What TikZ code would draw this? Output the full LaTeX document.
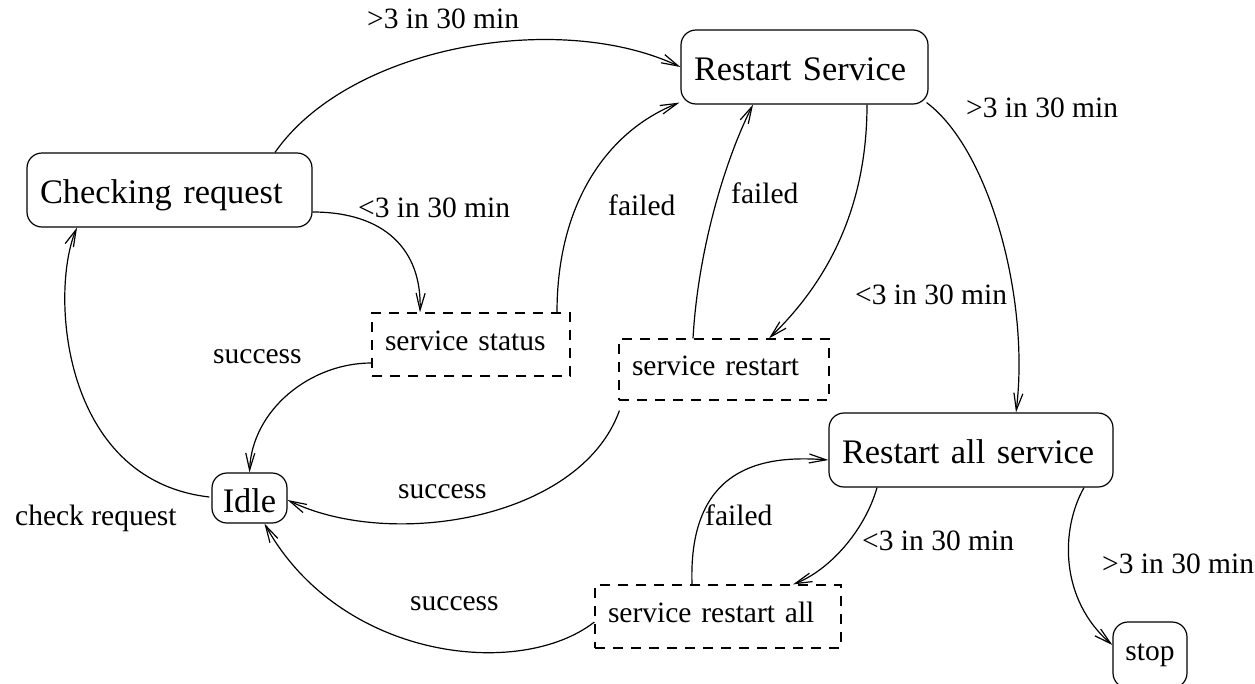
\documentclass[tikz,border=0pt]{standalone}
\usepackage{fontspec}
\setmainfont{Liberation Serif}
\usetikzlibrary{arrows.meta}
\begin{document}
\begin{tikzpicture}[x=1pt,y=-1pt,
  bigf/.style={font=\fontsize{34.4pt}{40pt}\selectfont, text height=26pt, text depth=0pt},
  smallf/.style={font=\fontsize{29.5pt}{35pt}\selectfont, text height=12pt, text depth=0pt},
  statebox/.style={draw, line width=1.2pt, rounded corners=15pt, inner xsep=13pt, inner ysep=0pt, align=left},
  actbox/.style={draw, line width=1.2pt, dash pattern=on 10pt off 8pt, inner xsep=13pt, inner ysep=0pt, align=left},
  lbl/.style={font=\fontsize{29.5pt}{35pt}\selectfont, inner sep=0pt, anchor=base west},
  arr/.style={line width=1.2pt, -{Straight Barb[length=17pt,width=9pt,line width=1.2pt]}},
]
\useasboundingbox (0,0) rectangle (1255,683);
% states
\node[statebox,bigf,text width=259pt,minimum height=74pt] (cr) at (169.5,190) {Checking request};
\node[statebox,bigf,text width=221pt,minimum height=74pt] (rs) at (804.5,67) {Restart Service};
\node[statebox,bigf,text width=258pt,minimum height=74pt] (ras) at (971,450) {Restart all service};
\node[statebox,bigf,text height=29pt,minimum width=75pt,minimum height=50pt,inner xsep=0pt] (idle) at (249.5,498) {Idle};
\node[statebox,smallf,text height=10pt,minimum width=74pt,minimum height=66pt,inner xsep=0pt] (stop) at (1150,655) {stop};
% actions
\node[actbox,smallf,text width=172pt,minimum height=63pt] (ss) at (471,344.5) {service status};
\node[actbox,smallf,text width=184pt,minimum height=61pt] (sr) at (724,369.5) {service restart};
\node[actbox,smallf,text width=220pt,minimum height=63pt] (sra) at (718,616.5) {service restart all};
% connectors
\draw[arr] ([xshift=105.5pt]cr.north) .. controls (350,45) and (560,10) .. (rs.west);
\draw[arr] ([yshift=-22pt]cr.east) .. controls (385,212) and (422,250) .. ([xshift=-51pt]ss.north);
\draw[arr] ([xshift=86pt]ss.north) .. controls (557,200) and (610,130) .. ([xshift=-1pt,yshift=2pt]rs.south west);
\draw[arr] ([xshift=-31pt]sr.north) .. controls (698,250) and (725,160) .. ([xshift=-51.5pt]rs.south);
\draw[arr] ([xshift=62.5pt]rs.south) .. controls (867,190) and (840,270) .. ([xshift=45pt]sr.north);
\draw[arr] ([xshift=-2pt,yshift=2pt]rs.south east) .. controls (990,150) and (1030,300) .. ([xshift=45pt]ras.north);
\draw[arr] ([yshift=-18.5pt]ss.west) .. controls (310,363) and (252,410) .. (idle.north);
\draw[arr] ([xshift=1pt,yshift=-10pt]sr.south west) .. controls (580,520) and (390,550) .. ([yshift=-2pt]idle.east);
\draw[arr] ([xshift=-2pt,yshift=1pt]idle.west) .. controls (60,480) and (50,290) .. ([xshift=-92.5pt]cr.south);
\draw[arr] ([yshift=-5.5pt]sra.west) .. controls (520,680) and (340,660) .. ([xshift=15pt]idle.south);
\draw[arr] ([xshift=-26pt]sra.north) .. controls (688,465) and (765,455) .. ([yshift=-10pt]ras.west);
\draw[arr] ([xshift=-94pt]ras.south) .. controls (865,530) and (830,570) .. ([xshift=75pt]sra.north);
\draw[arr] ([xshift=113pt]ras.south) .. controls (1060,530) and (1060,600) .. ([yshift=10pt]stop.west);
% labels
\node[lbl] (l1) at (367,28) {>3 in 30 min};
\node[lbl] (l2) at (358,217) {<3 in 30 min};
\node[lbl] (l3) at (608,215) {failed};
\node[lbl] (l4) at (731,203) {failed};
\node[lbl] (l5) at (855,304) {<3 in 30 min};
\node[lbl] (l6) at (966,117) {>3 in 30 min};
\node[lbl] (l7) at (213,363) {success};
\node[lbl] (l8) at (398,498) {success};
\node[lbl] (l9) at (15,525) {check request};
\node[lbl] (l10) at (705,525) {failed};
\node[lbl] (l11) at (862,550) {<3 in 30 min};
\node[lbl] (l12) at (1102,573) {>3 in 30 min};
\node[lbl] (l13) at (410,610) {success};
\end{tikzpicture}
\end{document}
